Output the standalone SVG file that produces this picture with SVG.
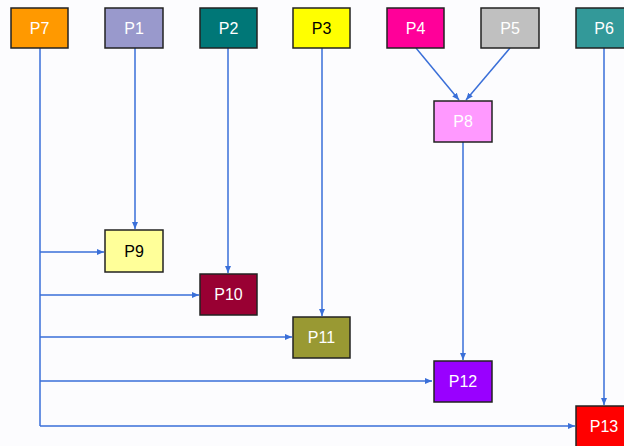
<svg xmlns="http://www.w3.org/2000/svg" width="624" height="446" viewBox="0 0 624 446">
<defs>
<marker id="ah" markerWidth="8" markerHeight="8" refX="7" refY="4" orient="auto" markerUnits="userSpaceOnUse">
<path d="M0,1 L7,4 L0,7 Z" fill="#3a6fd8"/>
</marker>
<style>
.n rect{stroke:#222;stroke-width:1.5}
.n text{font-family:"Liberation Sans",Arial,sans-serif;font-size:16px;fill:#fff;text-anchor:middle;dominant-baseline:central}
.n text.d{fill:#000}
#edges path{fill:none;stroke:#3a6fd8;stroke-width:1.5}
</style>
</defs>
<rect width="624" height="446" fill="#fcfcfe"/>
<g id="edges">
<path d="M40,48 V426"/>
<path d="M40,252 H104" marker-end="url(#ah)"/>
<path d="M40,295 H199" marker-end="url(#ah)"/>
<path d="M40,337 H292" marker-end="url(#ah)"/>
<path d="M40,381 H432" marker-end="url(#ah)"/>
<path d="M40,426 H575" marker-end="url(#ah)"/>
<path d="M135,48 V229" marker-end="url(#ah)"/>
<path d="M228,48 V273" marker-end="url(#ah)"/>
<path d="M322,48 V316" marker-end="url(#ah)"/>
<path d="M416,48 L459,100" marker-end="url(#ah)"/>
<path d="M510,48 L466,100" marker-end="url(#ah)"/>
<path d="M463,142 V360" marker-end="url(#ah)"/>
<path d="M604,48 V405" marker-end="url(#ah)"/>
</g>
<g id="P7" class="n"><rect x="11" y="8" width="57" height="40" fill="#ff9900"/><text x="39.5" y="28">P7</text></g>
<g id="P1" class="n"><rect x="105" y="8" width="58" height="40" fill="#9999cc"/><text x="134" y="28">P1</text></g>
<g id="P2" class="n"><rect x="200" y="8" width="57" height="40" fill="#007777"/><text x="228.5" y="28">P2</text></g>
<g id="P3" class="n"><rect x="293" y="8" width="57" height="40" fill="#ffff00"/><text class="d" x="321.5" y="28">P3</text></g>
<g id="P4" class="n"><rect x="387" y="8" width="57" height="40" fill="#ff0099"/><text x="415.5" y="28">P4</text></g>
<g id="P5" class="n"><rect x="481" y="8" width="58" height="40" fill="#c0c0c0"/><text x="510" y="28">P5</text></g>
<g id="P6" class="n"><rect x="576" y="8" width="58" height="40" fill="#339999"/><text x="604" y="28">P6</text></g>
<g id="P8" class="n"><rect x="434" y="101" width="58" height="41" fill="#ff99ff"/><text x="463" y="121.5">P8</text></g>
<g id="P9" class="n"><rect x="105" y="230" width="58" height="42" fill="#ffff99"/><text class="d" x="134" y="251">P9</text></g>
<g id="P10" class="n"><rect x="200" y="274" width="57" height="41" fill="#990033"/><text x="228.5" y="294.5">P10</text></g>
<g id="P11" class="n"><rect x="293" y="317" width="57" height="41" fill="#999933"/><text x="321.5" y="337.5">P11</text></g>
<g id="P12" class="n"><rect x="434" y="361" width="58" height="41" fill="#9900ff"/><text x="463" y="381.5">P12</text></g>
<g id="P13" class="n"><rect x="576" y="406" width="58" height="41" fill="#ff0000"/><text x="604" y="426.5">P13</text></g>
</svg>
